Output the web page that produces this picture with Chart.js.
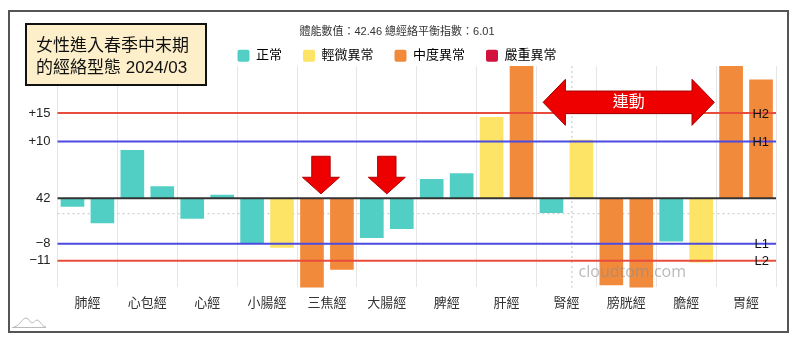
<!DOCTYPE html>
<html><head><meta charset="utf-8">
<script src="https://cdn.jsdelivr.net/npm/chart.js@4.4.0/dist/chart.umd.min.js"></script>
<style>html,body{margin:0;padding:0;background:#fff;}#wrap{width:800px;height:343px;position:relative;}</style>
</head><body><div id="wrap"><canvas id="c" width="800" height="343"></canvas></div>
<script>
const categories = ['肺經','心包經','心經','小腸經','三焦經','大腸經','脾經','肝經','腎經','膀胱經','膽經','胃經'];
const leftValues  = [-1.5, 8.5, -3.6, -8.0, -17, -7.0, 3.4, 14.3, -2.6, -15.3, -7.6, 26];
const rightValues = [-4.4, 2.1,  0.6, -8.7, -12.6, -5.4, 4.4, 26, 10.3, -17, -11.3, 20.9];
const leftStatus  = [0,0,0,0,2,0,0,1,0,2,0,2];
const rightStatus = [0,0,0,1,2,0,0,2,1,2,1,2];
const statusLabels = ['正常','輕微異常','中度異常','嚴重異常'];
const statusColors = ['#51CFC5','#FDE466','#F28A3C','#D2123C'];
const tickValues = [15, 10, 0, -8, -11];
const baselineLabel = '42';
const refLines = [15, 10, -8, -11];
const refLineNames = ['H2','H1','L1','L2'];
const refLineColors = ['#E84C3D','#4B4BE2','#4B4BE2','#E84C3D'];
const dottedLevel = -2.7;
const dottedX = 8.09;
const downArrowX = [3.9, 5.0];
const linkArrow = {from: 7.61, to: 10.47, level: 16.9, text: '連動'};
const headerText = '體能數值：42.46 總經絡平衡指數：6.01';
const titleLines = ['女性進入春季中末期','的經絡型態 2024/03'];
const watermark = {text: 'cloudtom.com', x: 9.1, y: -13.1};

const FONT = "'Helvetica Neue', Helvetica, Arial, 'Liberation Sans', 'Noto Sans CJK TC', sans-serif";
Chart.defaults.font.family = FONT;

function downArrow(ctx, cx, topY, tipY) {
  const sw = 9.2, hw = 18.5, hl = 16.6;
  ctx.beginPath();
  ctx.moveTo(cx - sw, topY);
  ctx.lineTo(cx + sw, topY);
  ctx.lineTo(cx + sw, tipY - hl);
  ctx.lineTo(cx + hw, tipY - hl);
  ctx.lineTo(cx, tipY);
  ctx.lineTo(cx - hw, tipY - hl);
  ctx.lineTo(cx - sw, tipY - hl);
  ctx.closePath();
  ctx.fill(); ctx.stroke();
}
function doubleArrow(ctx, x1, x2, cy) {
  const hl = 22.3, hh = 23, sh = 11.3;
  ctx.beginPath();
  ctx.moveTo(x1, cy);
  ctx.lineTo(x1 + hl, cy - hh);
  ctx.lineTo(x1 + hl, cy - sh);
  ctx.lineTo(x2 - hl, cy - sh);
  ctx.lineTo(x2 - hl, cy - hh);
  ctx.lineTo(x2, cy);
  ctx.lineTo(x2 - hl, cy + hh);
  ctx.lineTo(x2 - hl, cy + sh);
  ctx.lineTo(x1 + hl, cy + sh);
  ctx.lineTo(x1 + hl, cy + hh);
  ctx.closePath();
  ctx.fill(); ctx.stroke();
}

const overlay = {
  id: 'overlay',
  beforeDraw(chart) {
    const ctx = chart.ctx;
    ctx.save(); ctx.fillStyle = '#fff'; ctx.fillRect(0, 0, chart.width, chart.height); ctx.restore();
  },
  beforeDatasetsDraw(chart) {
    const {ctx, chartArea: a, scales: {x, y}} = chart;
    ctx.save();
    ctx.strokeStyle = '#cfcfcf'; ctx.lineWidth = 1.3; ctx.setLineDash([2, 3]);
    const yy = y.getPixelForValue(dottedLevel);
    ctx.beginPath(); ctx.moveTo(a.left, yy); ctx.lineTo(a.right, yy); ctx.stroke();
    const xx = x.getPixelForValue(dottedX);
    ctx.beginPath(); ctx.moveTo(xx, a.top); ctx.lineTo(xx, a.bottom); ctx.stroke();
    ctx.restore();
  },
  afterDatasetsDraw(chart) {
    const {ctx, chartArea: a, scales: {x, y}} = chart;
    ctx.save();
    refLines.forEach((v, i) => {
      const yy = y.getPixelForValue(v);
      ctx.strokeStyle = refLineColors[i]; ctx.lineWidth = 2;
      ctx.beginPath(); ctx.moveTo(a.left, yy); ctx.lineTo(a.right, yy); ctx.stroke();
    });
    const y0 = y.getPixelForValue(0);
    ctx.strokeStyle = '#333'; ctx.lineWidth = 2;
    ctx.beginPath(); ctx.moveTo(a.left, y0); ctx.lineTo(a.right, y0); ctx.stroke();
    ctx.fillStyle = '#111'; ctx.font = '13px ' + FONT; ctx.textAlign = 'right'; ctx.textBaseline = 'middle';
    refLines.forEach((v, i) => ctx.fillText(refLineNames[i], a.right - 7, y.getPixelForValue(v) + 1));
    ctx.fillStyle = '#EE0000'; ctx.strokeStyle = '#B00000'; ctx.lineWidth = 1;
    downArrowX.forEach(v => downArrow(ctx, x.getPixelForValue(v), y0 - 42, y0 - 4.4));
    const x1 = x.getPixelForValue(linkArrow.from), x2 = x.getPixelForValue(linkArrow.to);
    const cy = y.getPixelForValue(linkArrow.level);
    ctx.fillStyle = '#EE0000'; ctx.strokeStyle = '#A00000';
    doubleArrow(ctx, x1, x2, cy);
    ctx.fillStyle = '#fff'; ctx.font = '16px ' + FONT; ctx.textAlign = 'center'; ctx.textBaseline = 'middle';
    ctx.fillText(linkArrow.text, (x1 + x2) / 2, cy);
    ctx.fillStyle = 'rgba(140,140,140,0.6)'; ctx.font = "16px 'Open Sans', sans-serif";
    ctx.fillText(watermark.text, x.getPixelForValue(watermark.x), y.getPixelForValue(watermark.y));
    ctx.restore();
  },
  afterDraw(chart) {
    const ctx = chart.ctx;
    ctx.save();
    ctx.strokeStyle = '#555'; ctx.lineWidth = 2;
    ctx.strokeRect(9, 11, 779, 321);
    ctx.fillStyle = '#FCEFC9'; ctx.fillRect(26, 24, 180, 61);
    ctx.strokeStyle = '#111'; ctx.lineWidth = 2; ctx.strokeRect(26, 24, 180, 61);
    ctx.fillStyle = '#111'; ctx.font = '17px ' + FONT; ctx.textAlign = 'left'; ctx.textBaseline = 'middle';
    ctx.fillText(titleLines[0], 36, 46.5);
    ctx.fillText(titleLines[1], 36, 68);
    ctx.strokeStyle = '#bbb'; ctx.lineWidth = 1;
    ctx.beginPath();
    ctx.moveTo(14, 327);
    ctx.bezierCurveTo(20, 326, 22, 318, 26, 318);
    ctx.bezierCurveTo(29, 318, 30, 323, 32, 323);
    ctx.bezierCurveTo(34, 323, 35, 320, 37, 320);
    ctx.bezierCurveTo(40, 320, 41, 326, 46, 327);
    ctx.stroke();
    ctx.beginPath(); ctx.moveTo(12, 327.5); ctx.lineTo(46, 327.5); ctx.stroke();
    ctx.restore();
  }
};

new Chart(document.getElementById('c'), {
  type: 'bar',
  data: {
    labels: categories,
    datasets: [
      {label: 'L', data: leftValues, backgroundColor: leftStatus.map(s => statusColors[s]), borderWidth: 0, categoryPercentage: 1, barPercentage: 0.79},
      {label: 'R', data: rightValues, backgroundColor: rightStatus.map(s => statusColors[s]), borderWidth: 0, categoryPercentage: 1, barPercentage: 0.79}
    ]
  },
  options: {
    responsive: false,
    animation: false,
    devicePixelRatio: 1,
    layout: {padding: {left: 18, right: 24, top: 0, bottom: 24}},
    plugins: {
      tooltip: {enabled: false},
      title: {display: true, text: headerText, color: '#333', font: {size: 11, weight: 'normal'}, padding: {top: 25, bottom: -10}},
      legend: {
        display: true,
        maxHeight: 37.8,
        onClick: () => {},
        labels: {
          font: {size: 13}, color: '#333', boxWidth: 12, boxHeight: 12, padding: 21,
          generateLabels: () => statusLabels.map((t, i) => ({text: t, fillStyle: statusColors[i], strokeStyle: statusColors[i], lineWidth: 0, borderRadius: 2, hidden: false, index: i}))
        }
      }
    },
    scales: {
      x: {
        grid: {color: '#e6e6e6', drawTicks: false, offset: true},
        border: {display: false},
        ticks: {font: {size: 13}, color: '#333', padding: 8}
      },
      y: {
        min: -15.7, max: 23.3,
        grid: {display: false, drawTicks: false},
        border: {display: false},
        afterBuildTicks: s => { s.ticks = tickValues.map(v => ({value: v})); },
        afterFit: s => { s.width = 39.5; },
        ticks: {
          font: {size: 13}, color: '#222', padding: 7,
          callback: v => v === 0 ? baselineLabel : (v > 0 ? '+' + v : '\u2212' + Math.abs(v))
        }
      }
    }
  },
  plugins: [overlay]
});
</script></body></html>
